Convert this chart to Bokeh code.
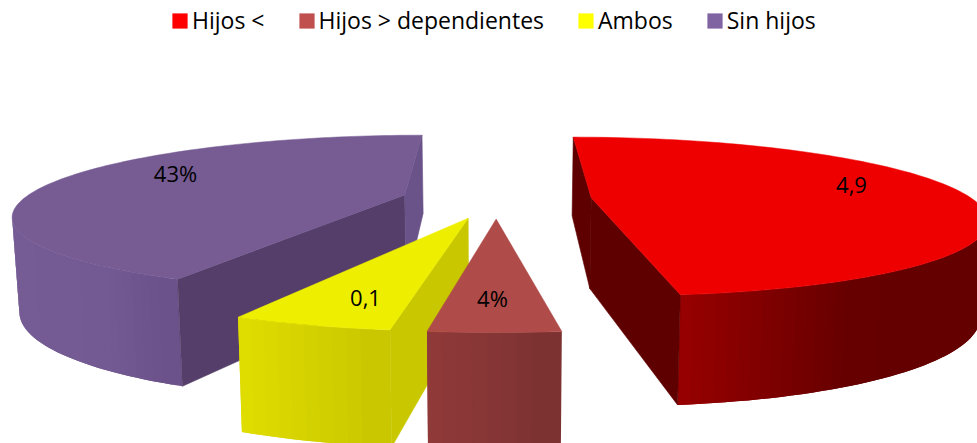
import numpy as np
from bokeh.core.properties import value
from bokeh.embed import file_html
from bokeh.models import ColumnDataSource, Legend, LegendItem, Range1d
from bokeh.plotting import figure
from bokeh.resources import INLINE

# ---- data
categories = ["Hijos <", "Hijos > dependientes", "Ambos", "Sin hijos"]
shares = [48.05, 4, 4.95, 43]
data_labels = ["4,9", "4%", "0,1", "43%"]

# ---- styles
legend_colors = ["#FF0000", "#C0504D", "#FFFF00", "#8064A2"]
top_colors = ["#EE0000", "#AF4B48", "#EEEE00", "#775C94"]
radial_colors = ["#5F0000", "#8A3838", "#C9C800", "#553F6A"]
back_wall_colors = {3: "#6A5389"}
# wall shading: (screen x, colour) stops for each slice
wall_stops = [
    [(678, "#9C0000"), (760, "#840000"), (860, "#660000"), (980, "#640000")],
    [(427, "#943A3A"), (561, "#7C3232")],
    [(238, "#E2DF00"), (391, "#C9C600")],
    [(12, "#765C94"), (110, "#745A92"), (178, "#6A5189")],
]
label_xy = [(851, 184), (492, 297), (365, 297), (175, 172)]

# ---- camera of the exploded 3-D pie
CX, CY, A, B, P = 496.0, 198.5, 381.0, 75.5, 0.235
EXPLODE = 0.25
BOTTOM_X, BOTTOM_Y, DROP = 0.985, 1.2, 91.0


def project(wx, wy):
    w = 1 + P * wy
    return CX + A * wx / w, CY - B * wy / w


def drop(x, y):
    return CX + (x - CX) * BOTTOM_X, CY + DROP + (y - CY) * BOTTOM_Y


def shade(stops, x):
    xs = [s[0] for s in stops]
    rgb = np.array([[int(s[1][i:i + 2], 16) for i in (1, 3, 5)] for s in stops], float)
    c = [np.interp(x, xs, rgb[:, k]) for k in range(3)]
    return "#%02x%02x%02x" % tuple(int(round(v)) for v in c)


def area(xs, ys):
    return sum(xs[i] * ys[(i + 1) % len(xs)] - xs[(i + 1) % len(xs)] * ys[i] for i in range(len(xs)))


p = figure(width=977, height=443, output_backend="svg", toolbar_location=None,
           x_range=Range1d(0, 977), y_range=Range1d(443, 0),
           min_border=0, outline_line_color=None)
p.styles = {"position": "absolute", "left": "0px", "top": "0px"}
p.axis.visible = False
p.grid.visible = False
p.background_fill_color = "white"

total = sum(shares)
edges = np.cumsum([0] + shares) / total * 2 * np.pi
for i in [3, 2, 1, 0]:
    t0, t1 = edges[i], edges[i + 1]
    mid = (t0 + t1) / 2
    ox, oy = EXPLODE * np.sin(mid), EXPLODE * np.cos(mid)
    th = np.linspace(t0, t1, max(int((t1 - t0) * 40), 10))
    rx, ry = project(ox + np.sin(th), oy + np.cos(th))
    bx, by = drop(rx, ry)
    ax, ay = project(ox, oy)
    abx, aby = drop(ax, ay)

    # outer rim: strips that face the viewer, each one overlapping the next to hide seams
    sx, sy, sc = [], [], []
    n = len(th)
    for k in range(n - 2, -1, -1):
        if rx[k + 1] < rx[k]:
            e = min(k + 2, n - 1)
            sx.append([*rx[k:e + 1], *bx[k:e + 1][::-1]])
            sy.append([*ry[k:e + 1], *by[k:e + 1][::-1]])
            sc.append(shade(wall_stops[i], (rx[k] + rx[k + 1]) / 2))
    if sx:
        p.patches("x", "y", source=ColumnDataSource(dict(x=sx, y=sy, c=sc)),
                  fill_color="c", line_color=None)

    # radial walls
    for j, sign in ((0, -1), (-1, 1)):
        wx = [ax, rx[j], bx[j], abx]
        wy = [ay, ry[j], by[j], aby]
        if sign * area(wx, wy) > 0:
            col = back_wall_colors.get(i, radial_colors[i]) if j == -1 else radial_colors[i]
            p.patch(wx, wy, fill_color=col, line_color=col, line_width=0.6)

    # top face
    p.patch([ax, *rx], [ay, *ry], fill_color=top_colors[i], line_color=top_colors[i], line_width=0.5)

p.text(x=[q[0] for q in label_xy], y=[q[1] for q in label_xy], text=data_labels,
       text_font=value("Open Sans"), text_font_size="22px", text_color="#000000",
       text_align="center", text_baseline="middle")

items = []
for name, col in zip(categories, legend_colors):
    src = ColumnDataSource(dict(left=[np.nan], right=[np.nan], top=[np.nan], bottom=[np.nan]))
    r = p.quad(left="left", right="right", top="top", bottom="bottom",
               source=src, fill_color=col, line_color=None)
    items.append(LegendItem(label=name, renderers=[r]))
legend = Legend(items=items, orientation="horizontal", location=(170, 407),
                glyph_width=19, glyph_height=19, label_standoff=3, spacing=32,
                padding=0, margin=0, background_fill_alpha=0, border_line_color=None,
                label_text_font="Open Sans", label_text_font_size="23px",
                label_text_color="#000000")
p.add_layout(legend, "center")

open("out.html", "w").write(file_html(p, INLINE))
